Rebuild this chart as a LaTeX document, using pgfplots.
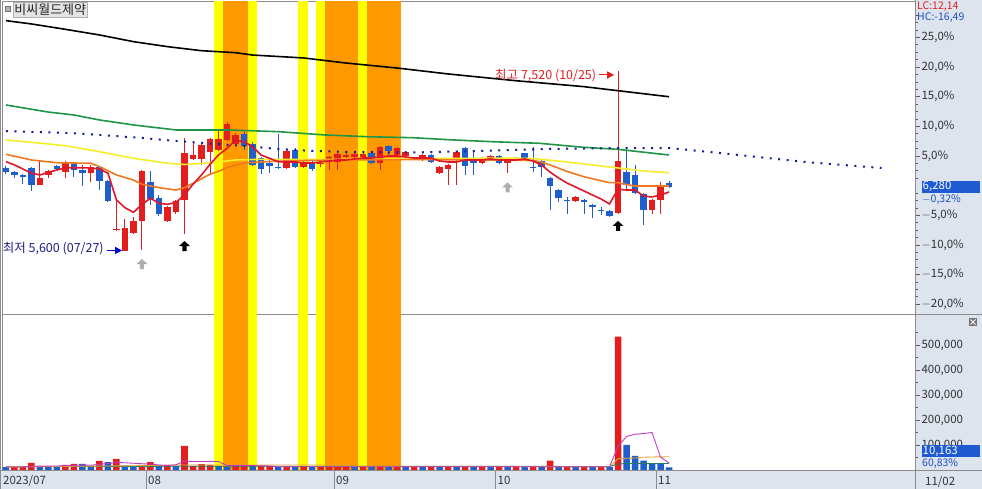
\documentclass[border=0pt]{standalone}
\usepackage{fontspec}
\setmainfont{Noto Sans CJK KR}
\usepackage{pgfplots}
\usepackage{pgfplotstable}
\pgfplotsset{compat=1.18}
\usetikzlibrary{arrows.meta}

\definecolor{cred}{RGB}{228,30,30}
\definecolor{cblue}{RGB}{30,95,205}
\definecolor{mared}{RGB}{222,24,40}
\definecolor{maorange}{RGB}{240,120,30}
\definecolor{mayellow}{RGB}{245,238,40}
\definecolor{magreen}{RGB}{30,150,70}
\definecolor{dotblue}{RGB}{20,30,150}
\definecolor{bandyellow}{RGB}{255,255,0}
\definecolor{bandorange}{RGB}{255,153,0}
\definecolor{panel}{RGB}{221,228,238}
\definecolor{frame}{RGB}{140,140,140}
\definecolor{tickgray}{RGB}{90,90,90}
\definecolor{labgray}{RGB}{50,50,50}
\definecolor{navy}{RGB}{30,30,130}
\definecolor{hcblue}{RGB}{30,80,190}
\definecolor{boxblue}{RGB}{30,90,210}
\definecolor{vmag}{RGB}{190,60,190}
\definecolor{vorange}{RGB}{230,160,60}
\definecolor{vteal}{RGB}{40,120,100}
\definecolor{titlegray}{RGB}{228,228,228}

\newcommand{\lab}{\fontsize{11.5}{12.5}\selectfont}
\newcommand{\sml}{\fontsize{10.5}{11.5}\selectfont}
\newcommand{\ann}{\fontsize{12.5}{13.5}\selectfont}

\pgfdeclareplotmark{uarrow}{%
 \pgfpathmoveto{\pgfqpoint{0pt}{5pt}}%
 \pgfpathlineto{\pgfqpoint{5.5pt}{0pt}}%
 \pgfpathlineto{\pgfqpoint{2pt}{0pt}}%
 \pgfpathlineto{\pgfqpoint{2pt}{-5pt}}%
 \pgfpathlineto{\pgfqpoint{-2pt}{-5pt}}%
 \pgfpathlineto{\pgfqpoint{-2pt}{0pt}}%
 \pgfpathlineto{\pgfqpoint{-5.5pt}{0pt}}%
 \pgfpathclose\pgfusepathqfill}

\pgfplotstableread{
i O H L C V vc
0 6490 6510 6420 6440 11000 0
1 6440 6450 6380 6410 13000 1
2 6410 6420 6320 6390 13000 1
3 6490 6500 6240 6310 28000 1
4 6310 6570 6300 6380 13000 0
5 6410 6460 6380 6450 13000 0
6 6510 6520 6460 6480 13000 0
7 6440 6560 6380 6550 20000 1
8 6540 6550 6390 6460 24000 1
9 6460 6520 6290 6430 24000 0
10 6430 6520 6340 6500 13000 0
11 6500 6510 6250 6350 36000 1
12 6350 6360 6130 6140 31000 0
13 5830 6160 5820 5840 44000 1
14 5600 5940 5600 5850 17000 0
15 5800 5970 5790 5920 11000 0
16 5920 6460 5610 6450 20000 1
17 6340 6450 6090 6160 31000 1
18 6170 6200 5980 6000 17000 0
19 5920 6080 5910 6070 20000 1
20 6020 6150 6000 6140 16000 0
21 6150 6800 5790 6650 96000 1
22 6580 6770 6570 6620 16000 1
23 6580 6740 6520 6730 23000 1
24 6660 6800 6410 6790 20000 1
25 6680 6890 6670 6790 16000 0
26 6780 6970 6770 6950 13000 0
27 6740 6860 6720 6840 20000 1
28 6850 6870 6680 6720 20000 1
29 6740 6760 6510 6520 16000 0
30 6590 6600 6420 6480 16000 1
31 6540 6570 6430 6510 16000 1
32 6500 6850 6480 6490 11000 0
33 6490 6680 6480 6670 13000 1
34 6680 6700 6490 6500 13000 0
35 6500 6560 6490 6550 13000 1
36 6550 6570 6450 6480 12000 0
37 6530 6570 6500 6540 12000 1
38 6550 6610 6460 6600 12000 1
39 6550 6640 6460 6630 12000 1
40 6600 6640 6590 6620 12000 1
41 6600 6640 6590 6630 12000 0
42 6600 6650 6590 6630 12000 1
43 6640 6660 6530 6540 12000 0
44 6540 6720 6460 6710 12000 1
45 6720 6730 6620 6670 12000 0
46 6620 6710 6610 6700 12000 1
47 6610 6670 6600 6660 12000 0
48 6590 6600 6570 6580 12000 1
49 6570 6630 6560 6620 12000 0
50 6620 6630 6540 6550 12000 1
51 6430 6510 6420 6500 12000 0
52 6480 6530 6300 6520 12000 1
53 6590 6670 6310 6660 12000 0
54 6700 6710 6410 6510 12000 1
55 6560 6680 6410 6550 12000 0
56 6540 6600 6530 6590 12000 1
57 6580 6620 6570 6610 12000 0
58 6610 6620 6530 6540 12000 1
59 6540 6590 6430 6580 12000 0
60 6580 6600 6570 6590 12000 1
61 6640 6650 6570 6580 12000 0
62 6500 6710 6440 6490 12000 1
63 6560 6570 6390 6500 12000 0
64 6380 6390 6040 6290 37000 1
65 6250 6260 6120 6170 12000 0
66 6150 6180 6000 6140 12000 1
67 6140 6190 6130 6180 12000 0
68 6150 6160 6000 6120 12000 1
69 6090 6100 5950 6070 12000 0
70 6040 6070 5990 6030 12000 1
71 6030 6040 5970 5980 12000 0
72 6010 7520 6000 6560 533000 1
73 6440 6680 6250 6310 100000 0
74 6410 6520 6210 6220 56000 0
75 6210 6220 5880 6040 37000 0
76 6040 6160 6000 6150 23000 0
77 6150 6340 6000 6290 23000 0
78 6330 6350 6270 6280 10163 0
}\candles

\pgfplotsset{
 band/.style={draw=none, fill=#1, mark=none},
 wick/.style={draw=none, mark=none, error bars/y dir=both, error bars/y explicit, error bars/error mark=none,
   error bars/error bar style={draw=#1, solid, line width=1pt}},
 body/.style={draw=none, mark=none, error bars/y dir=both, error bars/y explicit, error bars/error mark=none,
   error bars/error bar style={draw=#1, solid, line width=6.5pt}},
}

\begin{document}
\begin{tikzpicture}[x=1pt,y=1pt]
\useasboundingbox (0,0) rectangle (982,489);
\fill[white] (0,0) rectangle (982,489);
\fill[panel] (915,19) rectangle (982,489);
\fill[panel] (0,0) rectangle (982,18.5);

% ---------------- main price panel ----------------
\begin{axis}[at={(2pt,175pt)}, anchor=south west, width=913pt, height=313pt, scale only axis,
  xmin=-0.47, xmax=106.94, ymin=4935, ymax=8260,
  axis line style={draw=frame}, xtick=\empty, scaled y ticks=false,
  ytick pos=right, yticklabel pos=right, tick align=outside,
  ytick={7875,7560,7245,6930,6615,5985,5670,5355,5040},
  yticklabels={{25,0\%},{20,0\%},{15,0\%},{10,0\%},{5,0\%},{$-$5,0\%},{$-$10,0\%},{$-$15,0\%},{$-$20,0\%}},
  minor ytick={5118.75,5197.5,5276.25,5433.75,5512.5,5591.25,5748.75,5827.5,5906.25,6063.75,6142.5,6221.25,6378.75,6457.5,6536.25,6693.75,6772.5,6851.25,7008.75,7087.5,7166.25,7323.75,7402.5,7481.25,7638.75,7717.5,7796.25,7953.75,8032.5,8111.25},
  major tick length=5pt, minor tick length=2.5pt,
  every tick/.style={draw=tickgray},
  yticklabel style={font=\lab, text=labgray, xshift=-2pt},
  clip=true]
% bands
\addplot[band=bandyellow] coordinates {(24.5,4935)(25.5,4935)(25.5,8260)(24.5,8260)} -- cycle;
\addplot[band=bandorange] coordinates {(25.5,4935)(28.5,4935)(28.5,8260)(25.5,8260)} -- cycle;
\addplot[band=bandyellow] coordinates {(28.5,4935)(29.55,4935)(29.55,8260)(28.5,8260)} -- cycle;
\addplot[band=bandyellow] coordinates {(34.4,4935)(35.5,4935)(35.5,8260)(34.4,8260)} -- cycle;
\addplot[band=bandyellow] coordinates {(36.45,4935)(37.5,4935)(37.5,8260)(36.45,8260)} -- cycle;
\addplot[band=bandorange] coordinates {(37.5,4935)(41.45,4935)(41.45,8260)(37.5,8260)} -- cycle;
\addplot[band=bandyellow] coordinates {(41.45,4935)(42.5,4935)(42.5,8260)(41.45,8260)} -- cycle;
\addplot[band=bandorange] coordinates {(42.5,4935)(46.45,4935)(46.45,8260)(42.5,8260)} -- cycle;
% candles
\addplot[restrict expr to domain={\thisrow{C}-\thisrow{O}}{0:5000}, wick=cred]
  table[x=i, y expr={(\thisrow{H}+\thisrow{L})/2}, y error expr={(\thisrow{H}-\thisrow{L})/2}] {\candles};
\addplot[restrict expr to domain={\thisrow{C}-\thisrow{O}}{-5000:-1}, wick=cblue]
  table[x=i, y expr={(\thisrow{H}+\thisrow{L})/2}, y error expr={(\thisrow{H}-\thisrow{L})/2}] {\candles};
\addplot[restrict expr to domain={\thisrow{C}-\thisrow{O}}{0:5000}, body=cred]
  table[x=i, y expr={(\thisrow{O}+\thisrow{C})/2}, y error expr={abs(\thisrow{C}-\thisrow{O})/2}] {\candles};
\addplot[restrict expr to domain={\thisrow{C}-\thisrow{O}}{-5000:-1}, body=cblue]
  table[x=i, y expr={(\thisrow{O}+\thisrow{C})/2}, y error expr={abs(\thisrow{C}-\thisrow{O})/2}] {\candles};
% moving averages
\addplot[black, line width=1.6pt, mark=none] coordinates {(0,8051)(3,8016)(7,7959)(11,7899)(15,7828)(19,7775)(23,7732)(27,7711)(29,7686)(35,7655)(40,7601)(46,7548)(52,7485)(60,7413)(68,7350)(72,7307)(78,7243)};
\addplot[magreen, line width=1.6pt, mark=none] coordinates {(0,7155)(5,7080)(8,7049)(11,6996)(15,6943)(20,6890)(26,6890)(32,6872)(37.5,6837)(42.6,6818)(47.8,6808)(52.8,6783)(57.3,6765)(62.8,6748)(67.9,6706)(71.9,6685)(78,6624)};
\addplot[dotblue, line width=2pt, dash pattern=on 2pt off 6.5pt, mark=none] coordinates {(0,6879)(8,6855)(12,6831)(16,6805)(20,6773)(24,6746)(28,6720)(32,6688)(36,6667)(40,6656)(48,6651)(56,6667)(64,6688)(72,6698)(78,6698)(84,6645)(94,6550)(103,6486)};
\addplot[mayellow, line width=1.6pt, mark=none] coordinates {(0,6783)(3,6759)(7,6723)(11,6659)(15,6589)(19,6536)(21,6523)(24,6539)(27,6571)(30,6578)(40,6576)(50,6587)(56,6589)(60,6589)(62,6587)(66,6550)(70,6507)(72,6486)(75,6454)(78,6436)};
\addplot[maorange, line width=1.6pt, mark=none] coordinates {(0,6631)(3,6571)(6,6542)(10,6536)(11,6500)(13,6412)(15,6358)(16,6313)(18,6277)(20,6252)(21,6277)(22,6323)(24,6420)(25,6450)(26,6490)(28,6539)(31,6555)(35,6565)(40,6571)(45,6575)(50,6575)(55,6571)(60,6568)(62,6565)(63,6550)(64,6518)(66,6450)(68,6393)(70,6350)(71,6330)(72,6330)(73,6310)(74,6295)(78,6295)};
\addplot[mared, line width=1.6pt, mark=none] coordinates {(0,6553)(1,6518)(2,6475)(3,6430)(4,6412)(5,6440)(6,6465)(7,6489)(8,6489)(9,6489)(10,6486)(11,6475)(12,6430)(13,6146)(14,6064)(15,6015)(16,6100)(17,6164)(18,6111)(19,6100)(20,6121)(21,6199)(22,6313)(23,6412)(24,6525)(25,6624)(26,6695)(27,6783)(28,6765)(29,6712)(30,6624)(31,6589)(32,6553)(33,6550)(34,6550)(35,6539)(36,6539)(37,6550)(38,6560)(39,6571)(40,6571)(41,6582)(42,6592)(43,6592)(44,6603)(45,6613)(46,6613)(47,6603)(48,6592)(49,6592)(50,6592)(51,6560)(52,6550)(53,6550)(54,6571)(55,6571)(56,6571)(57,6582)(58,6571)(59,6571)(60,6571)(61,6582)(62,6560)(63,6518)(64,6443)(65,6380)(66,6326)(67,6284)(68,6242)(69,6199)(70,6157)(71,6104)(72,6260)(73,6252)(74,6252)(75,6188)(76,6178)(77,6199)(78,6231)};
% signal arrows
\addplot[only marks, mark=uarrow, black!35, mark options={fill=black!32}] coordinates {(16,5466)(59,6279)};
\addplot[only marks, mark=uarrow, black, mark options={fill=black}] coordinates {(21,5657)(72,5870)};
% annotations
\node[anchor=west, text=navy, font=\ann, inner sep=0pt] at (axis cs:-0.4,5625) {최저 5,600 (07/27)};
\draw[-{Triangle[width=7pt,length=7pt]}, draw=blue!85!black, fill=blue!85!black, line width=1pt] (axis cs:11.85,5610) -- (axis cs:13.65,5610);
\node[anchor=east, text=cred, font=\ann, inner sep=0pt] at (axis cs:69.45,7469) {최고 7,520 (10/25)};
\draw[-{Triangle[width=7pt,length=7pt]}, draw=cred, fill=cred, line width=1pt] (axis cs:69.8,7474) -- (axis cs:71.55,7474);
\end{axis}

% ---------------- volume panel ----------------
\begin{axis}[at={(2pt,19pt)}, anchor=south west, width=913pt, height=156pt, scale only axis,
  xmin=-0.47, xmax=106.94, ymin=0, ymax=624000,
  axis line style={draw=frame}, xtick=\empty, scaled y ticks=false,
  ytick pos=right, yticklabel pos=right, tick align=outside,
  ytick={100000,200000,300000,400000,500000},
  yticklabels={{100,000},{200,000},{300,000},{400,000},{500,000}},
  minor ytick={50000,150000,250000,350000,450000,550000},
  major tick length=5pt, minor tick length=2.5pt,
  every tick/.style={draw=tickgray},
  yticklabel style={font=\lab, text=labgray, xshift=-2pt},
  clip=true]
\addplot[band=bandyellow] coordinates {(24.5,0)(25.5,0)(25.5,624000)(24.5,624000)} -- cycle;
\addplot[band=bandorange] coordinates {(25.5,0)(28.5,0)(28.5,624000)(25.5,624000)} -- cycle;
\addplot[band=bandyellow] coordinates {(28.5,0)(29.55,0)(29.55,624000)(28.5,624000)} -- cycle;
\addplot[band=bandyellow] coordinates {(34.4,0)(35.5,0)(35.5,624000)(34.4,624000)} -- cycle;
\addplot[band=bandyellow] coordinates {(36.45,0)(37.5,0)(37.5,624000)(36.45,624000)} -- cycle;
\addplot[band=bandorange] coordinates {(37.5,0)(41.45,0)(41.45,624000)(37.5,624000)} -- cycle;
\addplot[band=bandyellow] coordinates {(41.45,0)(42.5,0)(42.5,624000)(41.45,624000)} -- cycle;
\addplot[band=bandorange] coordinates {(42.5,0)(46.45,0)(46.45,624000)(42.5,624000)} -- cycle;
\addplot[ybar, bar width=6.5pt, bar shift=0pt, fill=cred, draw=none, restrict expr to domain={\thisrow{vc}}{0.5:1.5}] table[x=i, y=V] {\candles};
\addplot[ybar, bar width=6.5pt, bar shift=0pt, fill=cblue, draw=none, restrict expr to domain={\thisrow{vc}}{-0.5:0.5}] table[x=i, y=V] {\candles};
\addplot[vteal, line width=0.9pt, mark=none] coordinates {(0,13000)(20,15000)(40,15000)(71,14000)(72,24000)(73,26000)(78,26000)};
\addplot[vorange, line width=0.9pt, mark=none] coordinates {(0,12000)(5,14000)(15,17000)(21,20000)(40,20000)(41,15000)(60,15000)(61,13000)(71,13000)(72,45000)(73,47000)(74,48000)(75,51000)(76,52000)(78,53000)};
\addplot[vmag, line width=0.9pt, mark=none] coordinates {(0,12000)(2,12000)(3,15000)(6,16000)(7,17000)(8,19000)(9,20000)(10,19000)(11,23000)(12,26000)(13,30000)(14,29000)(15,27000)(16,25000)(17,24000)(18,20000)(19,18000)(20,21000)(21,36000)(22,34000)(25,34000)(26,18000)(30,17000)(31,16000)(32,13000)(71,13000)(72,95000)(73,134000)(74,143000)(75,146000)(76,150000)(77,52000)(78,28000)};
\end{axis}

% ---------------- frame, labels, boxes ----------------
\draw[frame, line width=1.2pt] (0.6,0) -- (0.6,489);
\draw[frame] (915,175) -- (982,175);
\draw[frame] (0,18.5) -- (982,18.5);
\draw[frame] (915,0) -- (915,489);
\foreach \xx in {146,334,495.5,656} {\draw[frame] (\xx,0) -- (\xx,18.5);}
\node[anchor=west, font=\lab, text=labgray, inner sep=0pt] at (3,8.5) {2023/07};
\node[anchor=west, font=\lab, text=labgray, inner sep=0pt] at (148,8.5) {08};
\node[anchor=west, font=\lab, text=labgray, inner sep=0pt] at (336,8.5) {09};
\node[anchor=west, font=\lab, text=labgray, inner sep=0pt] at (497.5,8.5) {10};
\node[anchor=west, font=\lab, text=labgray, inner sep=0pt] at (658,8.5) {11};
\node[anchor=west, font=\lab, text=labgray, inner sep=0pt] at (925,7.5) {11/02};
% top right
\node[anchor=west, font=\sml, text=cred, inner sep=0pt] at (917,482.8) {LC:12,14};
\node[anchor=west, font=\sml, text=hcblue, inner sep=0pt] at (917,471.5) {HC:-16,49};
% price box
\fill[boxblue] (921.7,296.3) rectangle (980,307.8);
\node[anchor=west, font=\lab, text=white, inner sep=0pt] at (922.5,302.2) {6,280};
\node[anchor=west, font=\sml, text=hcblue, inner sep=0pt] at (922,289.6) {$-$0,32\%};
% volume box
\fill[boxblue] (921.7,31.8) rectangle (980,44);
\node[anchor=west, font=\lab, text=white, inner sep=0pt] at (922.5,37.8) {10,163};
\node[anchor=west, font=\sml, text=hcblue, inner sep=0pt] at (922,25) {60,83\%};
% close icon
\fill[black!55] (969,163) rectangle (977,171);
\draw[white, line width=0.8pt] (970.5,164.5) -- (975.5,169.5) (970.5,169.5) -- (975.5,164.5);
% title
\filldraw[fill=black!30, draw=black!55] (4.7,477.3) rectangle (10,483);
\node[anchor=west, fill=titlegray, draw=black!30, inner sep=1.5pt, font=\fontsize{13}{14}\selectfont, text=black!85] at (12.7,479.5) {비씨월드제약};
\end{tikzpicture}
\end{document}
